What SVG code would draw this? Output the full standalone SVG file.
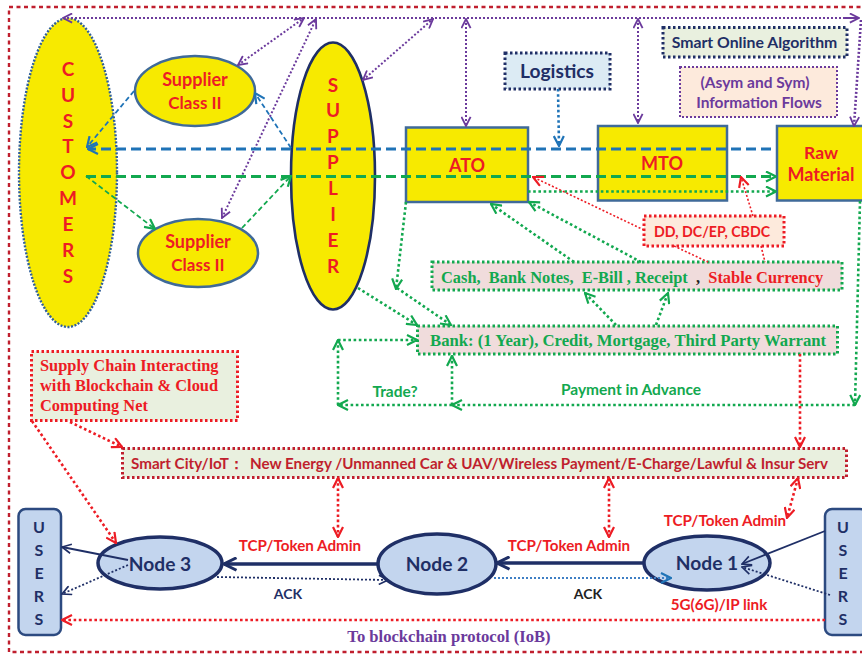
<svg xmlns="http://www.w3.org/2000/svg" width="862" height="654" viewBox="0 0 862 654">
<style>
text{font-family:Lato,"Open Sans","Liberation Sans",sans-serif;font-weight:700;text-anchor:middle;fill:#ed1c24}
.s{font-family:"Liberation Serif",serif}
.st{text-anchor:start}
.l{font-size:19px}
.n{fill:#1f2f66}
.g{fill:#12a84f}
.d{fill:#c01f2e}
.p{fill:#6b3a9c}
.yb{fill:#f7ea00;stroke:#3f6a99;stroke-width:2.5}
.box{stroke-width:3;stroke-dasharray:2.5 2.5}
.node{fill:#c3d5ee;stroke:#1f2f66;stroke-width:3.5}
.u{fill:#c3d5ee;stroke:#2c4a80;stroke-width:2.5}
#connectors *{fill:none}
.pu{stroke:#6b3a9c;stroke-width:2;stroke-dasharray:2 2;marker-start:url(#mp);marker-end:url(#mp)}
.blu{stroke:#1f73b7;stroke-width:3;stroke-dasharray:10 5}
.blt{stroke:#1f73b7;stroke-width:1.8;stroke-dasharray:5 3}
.gr{stroke:#12a84f;stroke-width:3;stroke-dasharray:10 5}
.grt{stroke:#12a84f;stroke-width:1.8;stroke-dasharray:5 3}
.gd{stroke:#12a84f;stroke-width:2.6;stroke-dasharray:2.6 2.6}
.rd{stroke:#ed1c24;stroke-width:2.6;stroke-dasharray:2.6 2.6}
.rt{stroke:#ed1c24;stroke-width:1.6;stroke-dasharray:2 2}
.nv{stroke:#1f2f66;stroke-width:1.8}
.nd{stroke:#1f2f66;stroke-width:1.8;stroke-dasharray:2 2}
</style>
<defs>
<marker id="mp" viewBox="0 0 12 12" refX="11" refY="6" markerWidth="11" markerHeight="11" markerUnits="userSpaceOnUse" orient="auto-start-reverse"><path d="M1 1L11 6L1 11" fill="none" stroke="#6b3a9c" stroke-width="2"/></marker>
<marker id="mb" viewBox="0 0 12 12" refX="11" refY="6" markerWidth="12" markerHeight="12" markerUnits="userSpaceOnUse" orient="auto-start-reverse"><path d="M1 1L11 6L1 11" fill="none" stroke="#1f73b7" stroke-width="2.2"/></marker>
<marker id="mg" viewBox="0 0 12 12" refX="11" refY="6" markerWidth="12" markerHeight="12" markerUnits="userSpaceOnUse" orient="auto-start-reverse"><path d="M1 1L11 6L1 11" fill="none" stroke="#12a84f" stroke-width="2.2"/></marker>
<marker id="mr" viewBox="0 0 12 12" refX="11" refY="6" markerWidth="12" markerHeight="12" markerUnits="userSpaceOnUse" orient="auto-start-reverse"><path d="M1 1L11 6L1 11" fill="none" stroke="#ed1c24" stroke-width="2.2"/></marker>
<marker id="mn" viewBox="0 0 12 12" refX="11" refY="6" markerWidth="11" markerHeight="11" markerUnits="userSpaceOnUse" orient="auto-start-reverse"><path d="M1 1L11 6L1 11" fill="none" stroke="#1f2f66" stroke-width="1.8"/></marker>
<marker id="mN" viewBox="0 0 12 12" refX="11" refY="6" markerWidth="15" markerHeight="15" markerUnits="userSpaceOnUse" orient="auto-start-reverse"><path d="M1 1L11 6L1 11" fill="none" stroke="#1f2f66" stroke-width="2.4"/></marker>
</defs>
<rect id="frame" x="9" y="7" width="870" height="645" fill="none" stroke="#c01f2e" stroke-width="2.4" stroke-dasharray="4 3.5"/>
<g id="customers"><ellipse cx="68" cy="172.5" rx="49" ry="154.5" fill="#f7ea00" stroke="#2f5f9a" stroke-width="2.4" stroke-dasharray="2 1.6"/>
<text class="l" x="68" y="76">C</text><text class="l" x="68" y="102">U</text><text class="l" x="68" y="128">S</text><text class="l" x="68" y="153">T</text><text class="l" x="68" y="179">O</text><text class="l" x="68" y="205">M</text><text class="l" x="68" y="231">E</text><text class="l" x="68" y="257">R</text><text class="l" x="68" y="283">S</text></g>
<g id="supplier-top"><ellipse class="yb" cx="195" cy="91" rx="60" ry="35"/><text x="195" y="86" font-size="18">Supplier</text><text x="195" y="109" font-size="17">Class II</text></g>
<g id="supplier-bottom"><ellipse class="yb" cx="198" cy="253" rx="60" ry="34"/><text x="198" y="248" font-size="18">Supplier</text><text x="198" y="271" font-size="17">Class II</text></g>
<g id="supplier"><ellipse cx="333" cy="176" rx="42" ry="133.5" fill="#f7ea00" stroke="#1f2f66" stroke-width="2.6"/>
<text class="l" x="333" y="92">S</text><text class="l" x="333" y="117">U</text><text class="l" x="333" y="143">P</text><text class="l" x="333" y="169">P</text><text class="l" x="333" y="195">L</text><text class="l" x="333" y="221">I</text><text class="l" x="333" y="247">E</text><text class="l" x="333" y="273">R</text></g>
<g id="ato"><rect class="yb" x="406" y="127.5" width="122" height="74.5"/><text x="467" y="172" font-size="18">ATO</text></g>
<g id="mto"><rect class="yb" x="598" y="126" width="129" height="74.5"/><text x="662" y="170" font-size="18">MTO</text></g>
<g id="raw"><rect class="yb" x="777" y="126" width="90" height="74.5"/><text x="821" y="159" font-size="17.5">Raw</text><text x="821" y="181" font-size="18">Material</text></g>
<g id="logistics"><rect class="box" x="505" y="53" width="105" height="36" fill="#dcebf4" stroke="#1f2f66"/><text class="n" x="557" y="78" font-size="19.2">Logistics</text></g>
<g id="algorithm"><rect class="box" x="663" y="27.5" width="184" height="29.5" fill="#e9f0df" stroke="#1f2f66"/><text class="n" x="754.5" y="48" font-size="15.8">Smart Online Algorithm</text></g>
<g id="flows"><rect x="680" y="67" width="157" height="50" fill="#fdeadc" stroke="#6b3a9c" stroke-width="2" stroke-dasharray="2 2"/><text class="p" x="755" y="88" font-size="15.5">(Asym and Sym)</text><text class="p" x="759" y="108" font-size="15.5">Information Flows</text></g>
<g id="dd"><rect class="box" x="644" y="216" width="140" height="30" fill="#fdeadc" stroke="#ed1c24"/><text x="712" y="237" font-size="14.2">DD, DC/EP, CBDC</text></g>
<g id="cash"><rect class="box" x="432" y="262" width="410" height="28" fill="#f0dcdc" stroke="#12a84f"/><text class="s g st" x="441" y="283" font-size="16.4" xml:space="preserve">Cash,  Bank Notes,  E-Bill , Receipt <tspan fill="#222"> , </tspan><tspan fill="#ed1c24"> Stable Currency</tspan></text></g>
<g id="bank"><rect class="box" x="417.5" y="326" width="420" height="28" fill="#f0dcdc" stroke="#12a84f"/><text class="s g st" x="430" y="346" font-size="16.7">Bank: (1 Year), Credit, Mortgage, Third Party Warrant</text></g>
<g id="supply-chain"><rect class="box" x="31.5" y="351.5" width="206" height="69" fill="#e9f0df" stroke="#ed1c24"/><text class="s st" x="40" y="371" font-size="16.4">Supply Chain Interacting</text><text class="s st" x="40" y="391" font-size="16.4">with Blockchain &amp; Cloud</text><text class="s st" x="40" y="411" font-size="16.4">Computing Net</text></g>
<g id="smart-city"><rect class="box" x="122.5" y="448.5" width="724" height="29" fill="#e9f0df" stroke="#c01f2e"/><text class="d st" x="131" y="469" font-size="15.2">Smart City/IoT：<tspan x="250">New Energy /Unmanned Car &amp; UAV/Wireless Payment/E-Charge/Lawful &amp; Insur Serv</tspan></text></g>
<g id="users-left"><rect class="u" x="18.5" y="509" width="42.5" height="126" rx="7"/><text class="n" x="39" y="533" font-size="16">U</text><text class="n" x="39" y="556" font-size="16">S</text><text class="n" x="39" y="579" font-size="16">E</text><text class="n" x="39" y="602" font-size="16">R</text><text class="n" x="39" y="625" font-size="16">S</text></g>
<g id="users-right"><rect class="u" x="825" y="509" width="42" height="126" rx="7"/><text class="n" x="843" y="533" font-size="16">U</text><text class="n" x="843" y="556" font-size="16">S</text><text class="n" x="843" y="579" font-size="16">E</text><text class="n" x="843" y="602" font-size="16">R</text><text class="n" x="843" y="625" font-size="16">S</text></g>
<g id="node3"><ellipse class="node" cx="160" cy="563" rx="62" ry="26"/><text class="n" x="160" y="571" font-size="19.2">Node 3</text></g>
<g id="node2"><ellipse class="node" cx="437" cy="564" rx="59" ry="30"/><text class="n" x="437" y="571" font-size="19.2">Node 2</text></g>
<g id="node1"><ellipse class="node" cx="707" cy="563" rx="63" ry="27"/><text class="n" x="707" y="570" font-size="19.2">Node 1</text></g>
<g id="connectors">
<path class="pu" style="marker-end:none" d="M63 18H859"/>
<path class="pu" style="marker-start:none" d="M845 18H859"/>
<path class="pu" style="marker-start:none;stroke-width:2.6" d="M861 20L854 126"/>
<path class="pu" d="M238 65L304 18"/>
<path class="pu" d="M222 218L316 19"/>
<path class="pu" d="M363 80L433 19"/>
<path class="pu" d="M466 19V126"/>
<path class="pu" d="M638 19V123"/>
<path class="blu" marker-end="url(#mb)" d="M771 149H88"/>
<path class="blt" marker-end="url(#mb)" d="M134 91L87 147"/>
<path class="blt" marker-end="url(#mb)" d="M291 148L255 93"/>
<path stroke="#1f73b7" stroke-width="2.6" stroke-dasharray="2.6 2.6" marker-end="url(#mb)" d="M558 89L559 146"/>
<path class="gr" marker-end="url(#mg)" d="M86 176.5H776"/>
<path class="grt" marker-end="url(#mg)" d="M86 176L155 229"/>
<path class="grt" marker-end="url(#mg)" d="M242 228L291 176"/>
<path class="gd" marker-end="url(#mg)" d="M528 191.5H776"/>
<path class="gd" marker-end="url(#mg)" d="M406 202L396 289"/>
<path class="gd" marker-end="url(#mg)" d="M397 288L451 325"/>
<path class="gd" marker-end="url(#mg)" d="M358 288L417 325"/>
<path class="gd" marker-end="url(#mg)" d="M574 262L491 204"/>
<path class="gd" marker-end="url(#mg)" d="M641 262L529 202"/>
<path class="gd" marker-end="url(#mg)" d="M616 325L585 293"/>
<path class="gd" marker-end="url(#mg)" d="M656 325L668 293"/>
<path class="gd" marker-end="url(#mg)" d="M338 405V340"/>
<path class="gd" marker-end="url(#mg)" d="M338 340H417"/>
<path class="gd" marker-end="url(#mg)" d="M452 405V356"/>
<path class="gd" marker-end="url(#mg)" d="M855 405H452"/>
<path class="gd" marker-end="url(#mg)" d="M452 405H338"/>
<path class="gd" marker-end="url(#mg)" d="M860 201L855 405"/>
<path class="rt" marker-end="url(#mr)" d="M644 230L533 177"/>
<path class="rt" marker-end="url(#mr)" d="M753 216L741 177"/>
<path class="rt" d="M674 246L708 262"/>
<path class="rt" d="M761 246L765 262"/>
<path class="rd" marker-end="url(#mr)" d="M800 354V447"/>
<path class="rd" marker-start="url(#mr)" marker-end="url(#mr)" d="M338 478V537"/>
<path class="rd" marker-start="url(#mr)" marker-end="url(#mr)" d="M609 478V537"/>
<path class="rd" marker-start="url(#mr)" marker-end="url(#mr)" d="M798 478L787 518"/>
<path class="rd" marker-end="url(#mr)" d="M32 421L116 543"/>
<path class="rd" marker-end="url(#mr)" d="M70 422L122 447"/>
<path class="rd" marker-end="url(#mr)" d="M825 620H62"/>
<path class="nv" marker-end="url(#mn)" d="M128 560L62 547"/>
<path class="nd" marker-end="url(#mn)" d="M128 565L62 594"/>
<path stroke="#1f2f66" stroke-width="3.5" marker-end="url(#mN)" d="M377 564H224"/>
<path stroke="#1f2f66" stroke-width="3.5" marker-end="url(#mN)" d="M644 563H497"/>
<path class="nd" marker-end="url(#mn)" d="M217 577L388 580"/>
<path stroke="#3f7fc4" stroke-width="1.8" stroke-dasharray="2 2" marker-end="url(#mb)" d="M494 578H671"/>
<path class="nv" marker-end="url(#mn)" d="M825 531L742 564"/>
<path class="nd" marker-end="url(#mn)" d="M830 595L742 567"/>
</g>
<g id="labels">
<text class="g" x="395" y="397" font-size="15.5">Trade?</text>
<text class="g" x="631" y="395" font-size="15.5">Payment in Advance</text>
<text x="300" y="551" font-size="15.2">TCP/Token Admin</text>
<text x="569" y="551" font-size="15.2">TCP/Token Admin</text>
<text x="725" y="526" font-size="15.2">TCP/Token Admin</text>
<text x="719" y="610" font-size="15.2">5G(6G)/IP link</text>
<text class="n" x="288" y="599" font-size="14">ACK</text>
<text x="588" y="599" font-size="14" style="fill:#222">ACK</text>
<text class="s p" x="449" y="642" font-size="16.6">To blockchain protocol (IoB)</text>
</g>
</svg>
